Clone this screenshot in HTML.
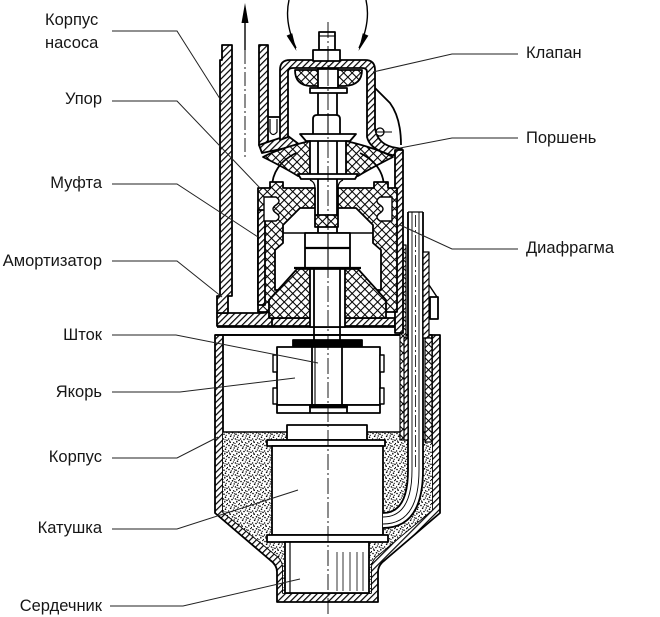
<!DOCTYPE html>
<html><head><meta charset="utf-8"><style>
html,body{margin:0;padding:0;background:#fff;width:660px;height:617px;overflow:hidden}
svg{display:block}
.t{font-family:"Liberation Sans","DejaVu Sans",sans-serif;font-size:16.5px;fill:#161616}
</style></head><body>
<svg width="660" height="617" viewBox="0 0 660 617" xmlns="http://www.w3.org/2000/svg">
<defs>
<pattern id="h" width="4.5" height="4.5" patternUnits="userSpaceOnUse" patternTransform="rotate(45)"><rect width="4.5" height="4.5" fill="#fff"/><line x1="0.6" y1="0" x2="0.6" y2="4.5" stroke="#000" stroke-width="1.2"/></pattern>
<pattern id="x" width="6" height="6" patternUnits="userSpaceOnUse" patternTransform="rotate(45)"><rect width="6" height="6" fill="#fff"/><line x1="0.5" y1="0" x2="0.5" y2="6" stroke="#000" stroke-width="1.1"/><line x1="0" y1="0.5" x2="6" y2="0.5" stroke="#000" stroke-width="1.1"/></pattern>
<pattern id="s" width="12" height="12" patternUnits="userSpaceOnUse"><rect width="12" height="12" fill="#fff"/>
<g fill="#000">
<circle cx="1" cy="1.5" r="0.8"/><circle cx="4.5" cy="0.8" r="0.8"/><circle cx="8" cy="2.2" r="0.8"/><circle cx="10.8" cy="0.5" r="0.7"/>
<circle cx="2.6" cy="4.3" r="0.8"/><circle cx="6.2" cy="4" r="0.7"/><circle cx="9.5" cy="5.2" r="0.8"/><circle cx="0.6" cy="7" r="0.7"/>
<circle cx="4" cy="7.5" r="0.8"/><circle cx="7.4" cy="7" r="0.7"/><circle cx="11" cy="8.3" r="0.8"/><circle cx="2.2" cy="10.2" r="0.8"/>
<circle cx="5.6" cy="10.8" r="0.7"/><circle cx="8.8" cy="9.8" r="0.8"/><circle cx="11.5" cy="11.5" r="0.6"/><circle cx="6.5" cy="1.8" r="0.6"/>
<circle cx="3.3" cy="2.9" r="0.6"/><circle cx="10.2" cy="3.4" r="0.6"/><circle cx="5.4" cy="6" r="0.6"/><circle cx="1.5" cy="9" r="0.6"/>
<circle cx="9" cy="7.8" r="0.6"/><circle cx="7" cy="11.6" r="0.6"/>
</g></pattern>
</defs>
<rect width="660" height="617" fill="#fff"/>

<g stroke="#000" stroke-width="1.8" stroke-linejoin="round">
<!-- motor housing -->
<path d="M215,335 H440 V513 L385,560 Q378,565 378,572 V602 H277 V572 Q277,565 270,560 L215,513 Z" fill="url(#h)"/>
<path d="M223,335 H432 V510 L378,555 Q371,560 371,568 V593 H283 V568 Q283,560 276,555 L223,512 Z" fill="#fff"/>
<path d="M223,432 H432 V510 L378,555 Q371,560 371,568 V593 H283 V568 Q283,560 276,555 L223,512 Z" fill="url(#s)" stroke="none"/>
<line x1="223" y1="432" x2="432" y2="432" stroke-width="1.4"/>

<!-- coil -->
<rect x="287" y="425" width="80" height="15" fill="#fff"/>
<rect x="267" y="440" width="118" height="6" fill="#fff"/>
<rect x="272" y="446" width="111" height="89" fill="#fff"/>
<rect x="267" y="535" width="121" height="7" fill="#fff"/>
<!-- core -->
<rect x="285" y="542" width="84" height="51" fill="#fff"/>
<line x1="290" y1="542" x2="290" y2="593" stroke-width="1.2"/>
<g stroke-width="1" stroke="#333">
<line x1="337" y1="552" x2="337" y2="591"/><line x1="343" y1="552" x2="343" y2="591"/><line x1="350" y1="552" x2="350" y2="591"/><line x1="357" y1="552" x2="357" y2="591"/><line x1="363" y1="552" x2="363" y2="591"/>
</g>

<!-- tube -->
<path d="M408,212 H423 V470 Q423,528 383,528 V513 Q408,513 408,470 Z" fill="#fff" stroke="none"/>
<path d="M408,212 V470 Q408,513 383,513" fill="none"/>
<path d="M423,212 V470 Q423,528 383,528" fill="none"/>
<path d="M412,212 V470 Q412,517 383,517" fill="none" stroke-width="0.9"/>
<path d="M419,212 V470 Q419,524 383,524" fill="none" stroke-width="0.9"/>
<line x1="408" y1="212" x2="423" y2="212" stroke-width="1.2"/>

<!-- right strips -->
<rect x="400" y="245" width="6" height="195" fill="url(#x)" stroke-width="1.2"/>
<rect x="404" y="338" width="4" height="102" fill="url(#h)" stroke-width="1.2"/>
<rect x="423" y="252" width="6" height="86" fill="url(#h)" stroke-width="1.2"/>
<rect x="425" y="338" width="7" height="104" fill="url(#x)" stroke-width="1.2"/>
<line x1="429" y1="285" x2="437" y2="297" stroke-width="1.4"/>
<rect x="430" y="297" width="8" height="22" fill="#fff"/>

<!-- armature -->
<rect x="293" y="340" width="69" height="6" fill="#000"/>
<rect x="277" y="347" width="103" height="58" fill="#fff"/>
<line x1="312" y1="347" x2="312" y2="405"/><line x1="315" y1="347" x2="315" y2="405" stroke-width="1.1"/><line x1="342" y1="347" x2="342" y2="405"/>
<rect x="277" y="405" width="103" height="8" fill="#fff"/>
<line x1="310" y1="405" x2="310" y2="413"/><line x1="347" y1="405" x2="347" y2="413"/>
<rect x="310" y="405" width="37" height="2.5" fill="#000"/>
<rect x="273" y="355" width="4" height="17" fill="#fff" stroke-width="1.4"/>
<rect x="273" y="388" width="4" height="16" fill="#fff" stroke-width="1.4"/>
<rect x="380" y="355" width="4" height="17" fill="#fff" stroke-width="1.4"/>
<rect x="380" y="388" width="4" height="16" fill="#fff" stroke-width="1.4"/>

<!-- pump body bottom plate -->
<line x1="215" y1="335" x2="400" y2="335"/>
<path d="M217,313 H262 Q270,313 272,305 H282 V326 H217 Z" fill="url(#h)"/>
<path d="M272,318 H395 V326 H272 Z" fill="url(#h)"/>
<line x1="217" y1="327" x2="400" y2="327"/>

<!-- outlet pipe -->
<path d="M222,45 H232 V296 H228 V313 H217 V296 H220 V60 H222 Z" fill="url(#h)"/>
<rect x="259" y="45" width="9" height="100" fill="url(#h)"/>
<path d="M259,145 L280,138 L288,136 L300,145 L262,153 Z" fill="url(#h)"/>
<line x1="268" y1="117" x2="280" y2="117"/>
<path d="M270,119 V132 Q273,137 277,132 V119" fill="none" stroke-width="1.2"/>

<!-- dome -->
<path d="M280,140 V70 Q280,60 290,60 H365 Q375,60 375,70 V128 Q377,143 392,147 L402,149 V156 L392,155 Q370,150 367,137 V72 Q367,68 362,68 H293 Q288,68 288,72 V137 Z" fill="url(#h)"/>
<path d="M375,88 L390,103 Q401,118 401,145" fill="none"/>
<circle cx="380" cy="132" r="4" fill="#fff" stroke-width="1.3"/>
<line x1="375" y1="132" x2="392" y2="132" stroke-width="1.1"/>
<!-- right wall -->
<rect x="395" y="150" width="8" height="183" fill="url(#h)"/>

<!-- valve -->
<rect x="319" y="32" width="16" height="18" fill="#fff"/>
<line x1="319" y1="36" x2="335" y2="36" stroke-width="1.1"/>
<rect x="313" y="50" width="27" height="11" fill="#fff"/>
<line x1="328" y1="50" x2="328" y2="61" stroke-width="1.1"/>
<path d="M295,70 H362 Q362,85 345,86 H310 Q295,85 295,70 Z" fill="url(#x)"/>
<rect x="318" y="69" width="20" height="19" fill="#fff"/>
<rect x="310" y="88" width="37" height="5" fill="#fff"/>

<!-- shaft -->
<line x1="318" y1="93" x2="318" y2="233"/>
<line x1="337" y1="93" x2="337" y2="233"/>

<!-- piston -->
<path d="M313,135 V119 Q313,115 317,115 H336 Q340,115 340,119 V135 Z" fill="#fff"/>
<line x1="328" y1="115" x2="328" y2="135" stroke-width="1.1"/>
<path d="M300,134 H356 L350,141 H306 Z" fill="#fff"/>
<path d="M263,157 Q280,148 310,141 V178 L298,176 Q285,168 263,157 Z" fill="url(#x)"/>
<path d="M393,157 Q376,148 346,141 V178 L358,176 Q371,168 393,157 Z" fill="url(#x)"/>
<path d="M298,174 H358 L355,179 H301 Z" fill="#fff"/>
<path d="M272,188 Q272,165 296,153" fill="none"/>
<path d="M384,188 Q384,165 360,153" fill="none"/>

<!-- bell (coupling + diaphragm) -->
<path fill-rule="evenodd" fill="url(#x)" d="M258,188 H270 V182 H283 V188 H315 V215 H338 V188 H374 V182 H388 V188 H397 V312 H258 Z M283,225 L300,208 H315 V227 H338 V208 H356 L373,225 V243 L381,250 V290 H275 V250 L283,243 Z"/>
<path d="M258,210 H265 V305 H258 Z" fill="url(#h)"/>
<path d="M264,197 H276 Q282,201 276,205 Q270,209 276,213 Q282,217 276,221 H264 Z" fill="#fff" stroke-width="1.4"/>
<path d="M392,197 H380 Q374,201 380,205 Q386,209 380,213 Q374,217 380,221 H392 Z" fill="#fff" stroke-width="1.4"/>
<line x1="283" y1="233" x2="373" y2="233" stroke-width="1.4"/>
<path d="M315,188 Q315,182 310,180 M338,188 Q338,182 343,180" fill="none" stroke-width="1.3"/>
<!-- nut -->
<rect x="305" y="233" width="45" height="35" fill="#fff"/>
<line x1="305" y1="248" x2="350" y2="248" stroke-width="2.2"/>
<line x1="328" y1="233" x2="328" y2="268" stroke-width="1.1"/>
<!-- damper cone -->
<line x1="294" y1="268" x2="361" y2="268" stroke-width="2.2"/>
<path d="M297,269 H358 L386,300 V318 H269 V300 Z" fill="url(#x)"/>
<rect x="310" y="269" width="35" height="58" fill="#fff"/>
<line x1="314" y1="269" x2="314" y2="340"/>
<line x1="340" y1="269" x2="340" y2="340"/>
</g>

<!-- arrows -->
<g stroke="#000" stroke-width="1.4" fill="none">
<line x1="245" y1="20" x2="245" y2="50"/>
<path d="M289,0 Q284,22 296,48"/>
<path d="M366,0 Q371,22 359,48"/>
</g>
<g fill="#000">
<polygon points="245,3 241.5,23 248.5,23"/>
<polygon points="296.5,51 286.6,35.6 292.2,33.2"/>
<polygon points="358.5,51 368.4,35.6 362.8,33.2"/>
</g>
<line x1="245" y1="50" x2="245" y2="157" stroke="#000" stroke-width="0.9" stroke-dasharray="14 3 2 3"/>

<!-- centerlines -->
<line x1="328" y1="22" x2="328" y2="614" stroke="#000" stroke-width="0.9" stroke-dasharray="16 3 2 3"/>
<line x1="415.5" y1="215" x2="415.5" y2="470" stroke="#000" stroke-width="0.8" stroke-dasharray="12 3 2 3"/>

<!-- leaders -->
<g stroke="#222" stroke-width="1" fill="none">
<path d="M112,31 H177 L222,102"/>
<path d="M112,101 H177 L260,188"/>
<path d="M112,184 H177 L258,237"/>
<path d="M112,261 H177 L222,297"/>
<path d="M112,335 H176 L318,363"/>
<path d="M112,392 H180 L295,378"/>
<path d="M112,458 H177 L218,437"/>
<path d="M112,529 H177 L298,490"/>
<path d="M110,606 H183 L300,579"/>
<path d="M518,54 H452 L373,72"/>
<path d="M518,138 H452 L400,148"/>
<path d="M518,249 H452 L400,225"/>
</g>

<!-- labels -->
<text class="t" x="45" y="25">Корпус</text>
<text class="t" x="45" y="48">насоса</text>
<text class="t" x="102" y="104" text-anchor="end">Упор</text>
<text class="t" x="102" y="188" text-anchor="end">Муфта</text>
<text class="t" x="102" y="266" text-anchor="end">Амортизатор</text>
<text class="t" x="102" y="340" text-anchor="end">Шток</text>
<text class="t" x="102" y="397" text-anchor="end">Якорь</text>
<text class="t" x="102" y="462" text-anchor="end">Корпус</text>
<text class="t" x="102" y="533" text-anchor="end">Катушка</text>
<text class="t" x="102" y="611" text-anchor="end">Сердечник</text>
<text class="t" x="526" y="58">Клапан</text>
<text class="t" x="526" y="143">Поршень</text>
<text class="t" x="526" y="253">Диафрагма</text>
</svg>
</body></html>
